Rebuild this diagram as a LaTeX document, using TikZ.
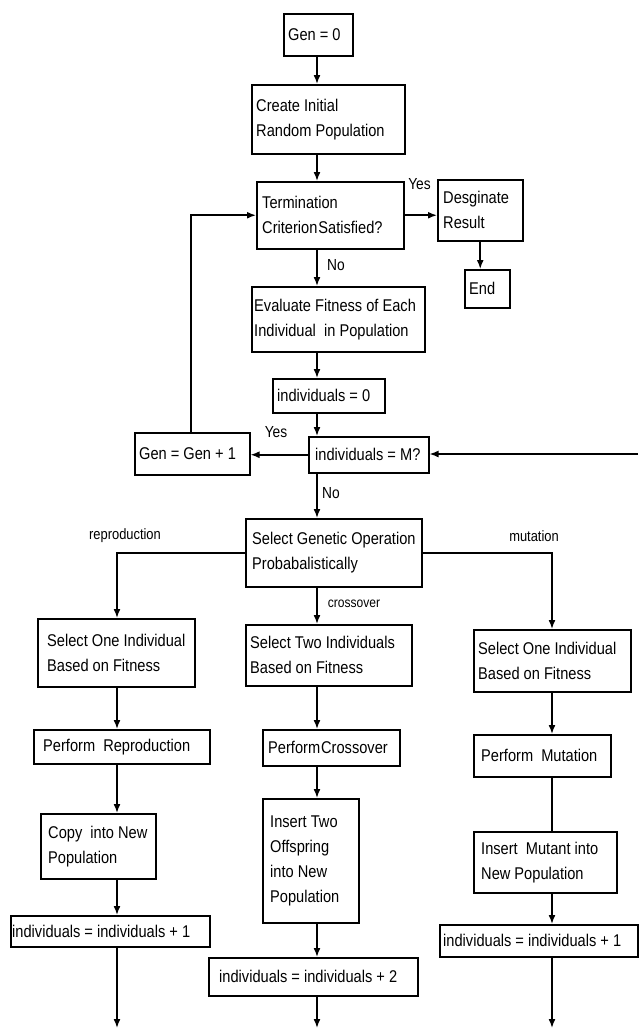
\documentclass[tikz,border=0pt]{standalone}
\usepackage{fontspec}
\setmainfont{Liberation Sans}[FakeStretch=0.86]
\usetikzlibrary{arrows.meta}
\newcommand\gpbox[7]{%
  \pgfmathsetmacro\gpw{#4-#2}%
  \pgfmathsetmacro\gph{#5-#3}%
  \node[box, minimum width=\gpw pt, minimum height=\gph pt,
    label={[txt, xshift=#6pt]west:{#7}}] (#1) at (#2,#3) {};}
\begin{document}
\begin{tikzpicture}[x=1pt,y=-1pt,
  box/.style={draw, line width=1.5pt, anchor=north west, inner sep=0pt},
  txt/.style={anchor=west, align=left, inner sep=0pt, font=\fontsize{17}{25}\selectfont},
  arr/.style={line width=1.6pt, -{Latex[length=9pt,width=7pt]}},
  ln/.style={line width=1.6pt},
  lbl/.style={inner sep=0pt, font=\fontsize{16}{18}\selectfont},
  slbl/.style={inner sep=0pt, font=\fontsize{15}{17}\selectfont},
  xlbl/.style={inner sep=0pt, font=\fontsize{14}{16}\selectfont}]
\useasboundingbox[fill=white] (0,0) rectangle (638,1029);
\coordinate (mc) at (317,0);
\coordinate (lc) at (117,0);
\coordinate (rc) at (552,0);
\coordinate (lp) at (191,0);

\gpbox{gen0}{283}{13}{352}{55}{5}{Gen = 0}
\gpbox{create}{251}{84}{404}{153}{5}{Create Initial\\Random Population}
\gpbox{term}{256}{181}{403}{248}{6}{Termination\\Criterion\hspace{1pt}Satisfied?}
\gpbox{des}{437}{179}{522}{240}{6}{Desginate\\Result}
\gpbox{endb}{464}{269}{509}{307}{5}{End}
\gpbox{eval}{251}{286}{424}{351}{3}{Evaluate Fitness of Each\\Individual\ \ in Population}
\gpbox{ind0}{272}{378}{384}{412}{5}{individuals = 0}
\gpbox{gen1}{134}{432}{249}{474}{5}{Gen = Gen + 1}
\gpbox{indM}{308}{436}{428}{472}{7}{individuals = M?}
\gpbox{sel}{245}{518}{421}{586}{7}{Select Genetic Operation\\Probabalistically}
\gpbox{s1}{37}{618}{194}{686}{10}{Select One Individual\\Based on Fitness}
\gpbox{s2}{245}{624}{411}{685}{5}{Select Two Individuals\\Based on Fitness}
\gpbox{s3}{473}{629}{630}{691}{5}{Select One Individual\\Based on Fitness}
\gpbox{pr}{33}{729}{209}{763}{10}{Perform\ \ Reproduction}
\gpbox{pc}{262}{729}{399}{765}{6}{Perform\hspace{1pt}Crossover}
\gpbox{pm}{473}{734}{610}{776}{8}{Perform\ \ Mutation}
\gpbox{copy}{40}{813}{155}{878}{8}{Copy\ \ into New\\Population}
\gpbox{ins2}{262}{798}{358}{922}{8}{Insert Two\\Offspring\\into New\\Population}
\gpbox{ins3}{473}{831}{616}{892}{8}{Insert\ \ Mutant into\\New Population}
\gpbox{i1}{10}{915}{209}{946}{2}{individuals = individuals + 1}
\gpbox{i2}{208}{957}{417}{995}{11}{individuals = individuals + 2}
\gpbox{i3}{439}{924}{637}{956}{4}{individuals = individuals + 1}

% labels
\node[lbl] (yes1) at (419.5,184) {Yes};
\node[lbl] (no1) at (336,265) {No};
\node[lbl] (yes2) at (276,432) {Yes};
\node[lbl] (no2) at (331,493) {No};
\node[slbl] (lrep) at (125,536) {reproduction};
\node[slbl] (lmut) at (534,536) {mutation};
\node[xlbl] (lcro) at (354,604) {crossover};

% main column
\draw[arr] (mc |- gen0.south) -- (mc |- create.north);
\draw[arr] (mc |- create.south) -- (mc |- term.north);
\draw[arr] (term.east) -- (term.east -| des.west);
\draw[arr] (des.south) -- (des.south |- endb.north);
\draw[arr] (mc |- term.south) -- (mc |- eval.north);
\draw[arr] (mc |- eval.south) -- (mc |- ind0.north);
\draw[arr] (mc |- ind0.south) -- (mc |- indM.north);
\draw[arr] (indM.west) -- (indM.west -| gen1.east);
\draw[arr] (lp |- gen1.north) |- (term.west);
\coordinate (rin) at (638,454);
\draw[arr] (rin) -- (rin -| indM.east);
\draw[arr] (mc |- indM.south) -- (mc |- sel.north);

% branches
\draw[arr] (sel.west) -| (lc |- s1.north);
\draw[arr] (sel.east) -| (rc |- s3.north);
\draw[arr] (mc |- sel.south) -- (mc |- s2.north);

% left column
\draw[arr] (lc |- s1.south) -- (lc |- pr.north);
\draw[arr] (lc |- pr.south) -- (lc |- copy.north);
\draw[arr] (lc |- copy.south) -- (lc |- i1.north);
\coordinate (lend) at (117,1028);
\draw[arr] (lc |- i1.south) -- (lend);

% middle column
\draw[arr] (mc |- s2.south) -- (mc |- pc.north);
\draw[arr] (mc |- pc.south) -- (mc |- ins2.north);
\draw[arr] (mc |- ins2.south) -- (mc |- i2.north);
\coordinate (mend) at (317,1028);
\draw[arr] (mc |- i2.south) -- (mend);

% right column
\draw[arr] (rc |- s3.south) -- (rc |- pm.north);
\draw[ln] (rc |- pm.south) -- (rc |- ins3.north);
\draw[arr] (rc |- ins3.south) -- (rc |- i3.north);
\coordinate (rend) at (552,1028);
\draw[arr] (rc |- i3.south) -- (rend);
\end{tikzpicture}
\end{document}
